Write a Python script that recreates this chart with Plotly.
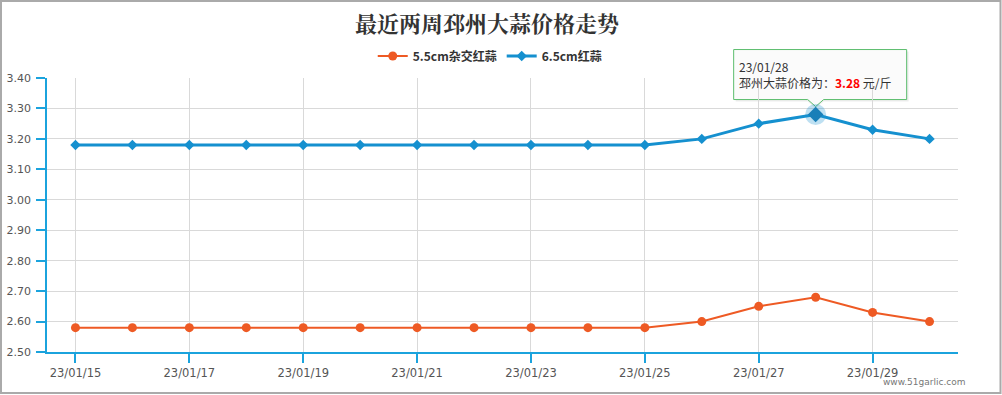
import plotly.graph_objects as go

dates = ["23/01/15", "23/01/16", "23/01/17", "23/01/18", "23/01/19", "23/01/20",
         "23/01/21", "23/01/22", "23/01/23", "23/01/24", "23/01/25", "23/01/26",
         "23/01/27", "23/01/28", "23/01/29", "23/01/30"]
hybrid_55 = [2.58, 2.58, 2.58, 2.58, 2.58, 2.58, 2.58, 2.58, 2.58, 2.58, 2.58,
             2.60, 2.65, 2.68, 2.63, 2.60]
red_65 = [3.18, 3.18, 3.18, 3.18, 3.18, 3.18, 3.18, 3.18, 3.18, 3.18, 3.18,
          3.20, 3.25, 3.28, 3.23, 3.20]
series_names = ["5.5cm杂交红蒜", "6.5cm红蒜"]
tick_labels = dates[::2]
title_text = "最近两周邳州大蒜价格走势"
hover_idx = 13
y_min, y_max = 2.5, 3.4

W, H = 1002, 395
ML, MR, MT, MB = 47, 44, 78, 43
AX = "#1ba3dd"
ORANGE = "#ee5a24"
BLUE = "#1590cf"

fig = go.Figure()
fig.add_trace(go.Scatter(
    x=dates, y=hybrid_55, name=f"<b>{series_names[0]}</b>", mode="lines+markers",
    line=dict(color=ORANGE, width=2),
    marker=dict(symbol="circle", size=9, color=ORANGE)))
fig.add_trace(go.Scatter(
    x=dates, y=red_65, name=f"<b>{series_names[1]}</b>", mode="lines+markers",
    line=dict(color=BLUE, width=3),
    marker=dict(symbol="diamond", size=8, color=BLUE)))

# tooltip anchor in paper coords derived from the axis ranges
ax_p = (hover_idx + 0.5) / len(dates)
ay_p = (red_65[hover_idx] - y_min) / (y_max - y_min)

box_path = ("M -82,15 L -8,15 L 0,8 L 8,15 L 91,15 L 91,65 L -82,65 Z")
shadow_path = ("M -80,13 L -8,13 L 0,6 L 8,13 L 93,13 L 93,63 L -80,63 Z")
fig.add_shape(type="path", xref="paper", yref="paper", xsizemode="pixel", ysizemode="pixel",
              xanchor=ax_p, yanchor=ay_p, path=shadow_path,
              fillcolor="rgba(0,0,0,0.07)", line=dict(width=0), layer="between")
fig.add_shape(type="path", xref="paper", yref="paper", xsizemode="pixel", ysizemode="pixel",
              xanchor=ax_p, yanchor=ay_p, path=box_path,
              fillcolor="#fbfbfb", line=dict(color="#5cbd6e", width=1), layer="between")

# hover highlight
fig.add_trace(go.Scatter(
    x=[dates[hover_idx]], y=[red_65[hover_idx]], mode="markers", showlegend=False,
    marker=dict(symbol="circle", size=21, color="rgba(21,144,207,0.28)"),
    hoverinfo="skip"))
fig.add_trace(go.Scatter(
    x=[dates[hover_idx]], y=[red_65[hover_idx]], mode="markers", showlegend=False,
    marker=dict(symbol="diamond", size=12, color="#1a7fb8"),
    hoverinfo="skip"))

fig.add_annotation(
    x=ax_p, y=ay_p, xref="paper", yref="paper",
    xanchor="left", yanchor="bottom", xshift=-79, yshift=22, showarrow=False, align="left",
    text=(f"{dates[hover_idx]}<br>邳州大蒜价格为：<b><span style='color:#ff0000'>"
          f"{red_65[hover_idx]:.2f}</span></b> 元/斤"),
    font=dict(family="Noto Sans CJK SC, sans-serif", size=12, color="#333"))

# watermark
fig.add_annotation(x=1, y=0, xref="paper", yref="paper", xanchor="right", yanchor="top",
                   xshift=10, yshift=-23, showarrow=False, text="www.51garlic.com",
                   font=dict(family="DejaVu Sans, sans-serif", size=9, color="#777"))

# outer border
pw, ph = W - ML - MR, H - MT - MB
def px(v): return (v - ML) / pw
def py(v): return (H - MB - v) / ph
fig.add_shape(type="rect", xref="paper", yref="paper",
              x0=px(1), x1=px(1000.5), y0=py(1), y1=py(393),
              line=dict(color="#aaaaaa", width=2), fillcolor="rgba(0,0,0,0)", layer="below")

fig.update_layout(
    width=W, height=H, margin=dict(l=ML, r=MR, t=MT, b=MB, autoexpand=False),
    paper_bgcolor="white", plot_bgcolor="white",
    title=dict(text=f"<b>{title_text}</b>", x=0.486, xanchor="center",
               y=1 - 24 / H, yanchor="middle", yref="container",
               font=dict(family="Noto Serif CJK SC, Noto Sans CJK SC, serif", size=22, color="#333")),
    legend=dict(orientation="h", x=0.486, xanchor="center", y=1 - 56 / H, yanchor="middle",
                yref="container", font=dict(family="Noto Sans CJK SC, sans-serif", size=12, color="#333"),
                itemwidth=30, traceorder="normal"),
    showlegend=True,
    font=dict(family="Noto Sans CJK SC, sans-serif"),
    hovermode=False,
)
fig.update_xaxes(type="category", categoryorder="array", categoryarray=dates,
                 range=[-0.5, len(dates) - 0.5], tickvals=tick_labels, ticktext=tick_labels,
                 showgrid=True, gridcolor="#d9d9d9", gridwidth=1,
                 showline=True, linecolor=AX, linewidth=1.5,
                 ticks="outside", ticklen=9, tickcolor=AX, tickwidth=1.5,
                 tickfont=dict(family="DejaVu Sans, sans-serif", size=11.5, color="#555"),
                 zeroline=False, fixedrange=True, automargin=False)
fig.update_yaxes(range=[y_min, y_max], dtick=0.1, tick0=2.5, tickformat=".2f",
                 showgrid=True, gridcolor="#d9d9d9", gridwidth=1,
                 showline=True, linecolor=AX, linewidth=1.5,
                 ticks="outside", ticklen=9, tickcolor=AX, tickwidth=1.5,
                 ticklabelstandoff=3,
                 tickfont=dict(family="DejaVu Sans, sans-serif", size=11, color="#555"),
                 zeroline=False, fixedrange=True, automargin=False)

fig.write_html("out.html", config={"displayModeBar": False},
               post_script="document.body.style.margin='0';")
